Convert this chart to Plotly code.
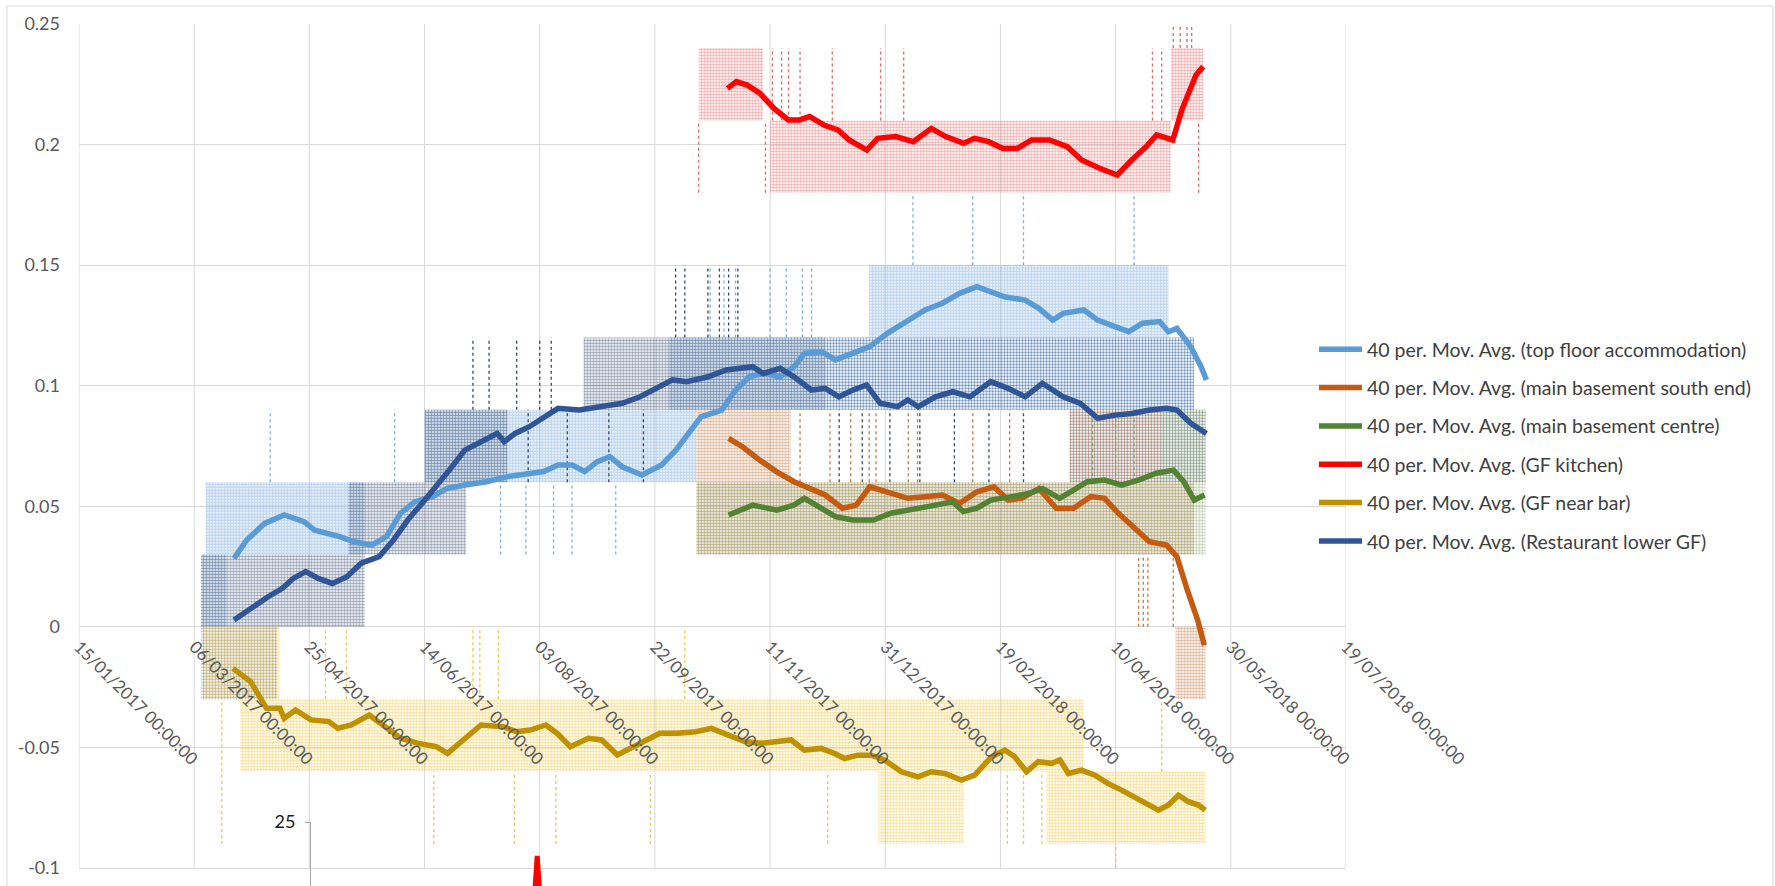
import plotly.graph_objects as go
import pandas as pd

# ---------------- data (x values are Excel date serials) ----------------
top_x = [42817.3, 42822.8, 42830.6, 42839.1, 42847.7, 42852.3, 42863.2, 42869.4, 42877.1, 42883.4,
         42889.6, 42895.8, 42903.5, 42909.7, 42917.5, 42926.8, 42936.1, 42945.5, 42951.7, 42957.9,
         42964.1, 42969.5, 42975.0, 42980.4, 42985.8, 42994.4, 43002.9, 43009.1, 43015.4, 43020.0,
         43029.0, 43035.0, 43041.0, 43047.0, 43054.4, 43060.4, 43064.9, 43072.4, 43078.4, 43085.9,
         43093.3, 43100.9, 43109.8, 43117.3, 43124.8, 43132.3, 43139.8, 43144.3, 43151.7, 43160.7,
         43166.7, 43172.7, 43177.2, 43186.2, 43192.2, 43199.7, 43205.7, 43211.7, 43219.1, 43222.9,
         43226.6, 43232.6, 43237.1, 43239.4]
top_y = [0.0284, 0.0360, 0.0429, 0.0464, 0.0436, 0.0401, 0.0374, 0.0353, 0.0339, 0.0374,
         0.0471, 0.0519, 0.0540, 0.0574, 0.0588, 0.0602, 0.0623, 0.0637, 0.0644, 0.0671,
         0.0671, 0.0644, 0.0685, 0.0706, 0.0664, 0.0630, 0.0671, 0.0733, 0.0816, 0.0871,
         0.0899, 0.0982, 0.1037, 0.1051, 0.1037, 0.1079, 0.1134, 0.1141, 0.1107, 0.1134,
         0.1162, 0.1217, 0.1272, 0.1314, 0.1342, 0.1383, 0.1411, 0.1397, 0.1369, 0.1355,
         0.1321, 0.1272, 0.1300, 0.1314, 0.1272, 0.1245, 0.1224, 0.1259, 0.1266, 0.1224,
         0.1238, 0.1162, 0.1079, 0.1024]

rest_x = [42817.3, 42824.3, 42832.1, 42838.3, 42843.0, 42848.4, 42853.9, 42860.0, 42866.3, 42872.5,
          42880.3, 42886.5, 42892.7, 42898.9, 42905.1, 42911.3, 42917.5, 42925.3, 42931.5, 42934.6,
          42939.3, 42945.5, 42951.7, 42957.9, 42967.2, 42976.5, 42985.8, 42993.6, 43001.3, 43007.6,
          43013.8, 43023.1, 43030.9, 43038.7, 43042.5, 43047.0, 43054.4, 43060.4, 43067.9, 43073.9,
          43079.9, 43085.9, 43091.9, 43097.8, 43105.3, 43109.8, 43114.3, 43121.8, 43129.3, 43136.8,
          43145.8, 43153.3, 43160.7, 43168.2, 43177.2, 43184.7, 43192.2, 43199.7, 43207.1, 43214.7,
          43222.1, 43226.6, 43232.6, 43239.4]
rest_y = [0.0028, 0.0077, 0.0125, 0.0160, 0.0201, 0.0229, 0.0201, 0.0180, 0.0208, 0.0264,
          0.0291, 0.0360, 0.0443, 0.0512, 0.0581, 0.0657, 0.0733, 0.0768, 0.0802, 0.0768,
          0.0802, 0.0830, 0.0871, 0.0906, 0.0899, 0.0913, 0.0927, 0.0954, 0.0996, 0.1024,
          0.1017, 0.1037, 0.1065, 0.1072, 0.1079, 0.1051, 0.1072, 0.1037, 0.0982, 0.0989,
          0.0954, 0.0982, 0.1003, 0.0927, 0.0913, 0.0941, 0.0913, 0.0954, 0.0975, 0.0954,
          0.1017, 0.0989, 0.0954, 0.1010, 0.0954, 0.0927, 0.0865, 0.0878, 0.0885, 0.0899,
          0.0906, 0.0899, 0.0844, 0.0802]

south_x = [43032.0, 43038.0, 43045.4, 43052.9, 43060.4, 43067.9, 43073.9, 43081.4, 43087.4, 43093.3,
           43100.9, 43109.8, 43117.3, 43124.8, 43132.3, 43139.8, 43147.2, 43153.3, 43159.2, 43166.7,
           43174.2, 43181.7, 43189.2, 43195.2, 43201.2, 43208.6, 43214.7, 43222.1, 43226.6, 43231.1,
           43235.6, 43238.5]
south_y = [0.0782, 0.0747, 0.0692, 0.0643, 0.0602, 0.0574, 0.0547, 0.0492, 0.0505, 0.0581,
           0.0560, 0.0533, 0.0540, 0.0547, 0.0512, 0.0560, 0.0581, 0.0526, 0.0533, 0.0574,
           0.0492, 0.0492, 0.0540, 0.0533, 0.0471, 0.0402, 0.0353, 0.0339, 0.0291, 0.0153,
           0.0028, -0.0076]

centre_x = [43032.0, 43042.5, 43052.9, 43060.4, 43064.9, 43070.9, 43078.4, 43085.9, 43094.9, 43102.4,
            43112.8, 43121.8, 43129.3, 43133.8, 43139.8, 43145.8, 43154.8, 43162.3, 43168.3, 43175.7,
            43181.7, 43187.7, 43195.2, 43202.6, 43210.1, 43217.6, 43225.1, 43229.6, 43234.1, 43238.6]
centre_y = [0.0464, 0.0505, 0.0484, 0.0505, 0.0533, 0.0498, 0.0457, 0.0443, 0.0443, 0.0471,
            0.0492, 0.0505, 0.0519, 0.0478, 0.0492, 0.0526, 0.0540, 0.0553, 0.0574, 0.0533,
            0.0567, 0.0602, 0.0609, 0.0588, 0.0609, 0.0637, 0.0650, 0.0602, 0.0526, 0.0547]

kitchen_x = [43031.5, 43035.4, 43040.0, 43045.5, 43051.7, 43057.9, 43062.6, 43067.2, 43073.4, 43079.6,
             43084.3, 43092.0, 43096.7, 43104.5, 43112.2, 43120.0, 43126.2, 43134.0, 43138.7, 43144.8,
             43151.1, 43157.3, 43163.5, 43171.3, 43179.0, 43185.2, 43193.0, 43200.7, 43207.0, 43213.2,
             43217.8, 43224.8, 43228.7, 43234.9, 43238.0]
kitchen_y = [0.2233, 0.2261, 0.2247, 0.2213, 0.2150, 0.2102, 0.2102, 0.2116, 0.2081, 0.2060,
             0.2019, 0.1977, 0.2026, 0.2033, 0.2012, 0.2067, 0.2033, 0.2005, 0.2026, 0.2012,
             0.1984, 0.1984, 0.2019, 0.2019, 0.1991, 0.1936, 0.1902, 0.1874, 0.1936, 0.1991,
             0.2040, 0.2019, 0.2143, 0.2289, 0.2323]

bar_x = [42816.8, 42824.5, 42831.4, 42837.2, 42839.1, 42844.0, 42850.7, 42858.5, 42862.4, 42868.2,
         42876.0, 42881.8, 42889.6, 42897.3, 42905.1, 42910.0, 42916.7, 42924.5, 42934.2, 42940.0,
         42945.9, 42952.7, 42957.5, 42963.3, 42971.1, 42976.9, 42983.7, 42990.5, 42996.3, 43002.1,
         43009.9, 43017.7, 43024.5, 43031.3, 43039.0, 43046.1, 43051.9, 43059.1, 43064.9, 43072.2,
         43078.0, 43082.3, 43088.1, 43093.9, 43099.7, 43107.0, 43114.2, 43120.0, 43125.8, 43133.0,
         43138.8, 43146.1, 43151.9, 43156.2, 43161.3, 43166.4, 43172.2, 43175.8, 43179.5, 43185.2,
         43191.0, 43196.8, 43202.6, 43208.4, 43214.2, 43218.6, 43222.9, 43227.3, 43231.6, 43236.0,
         43238.9]
bar_y = [-0.0172, -0.0227, -0.0338, -0.0338, -0.0379, -0.0345, -0.0386, -0.0393, -0.0421, -0.0407,
         -0.0366, -0.0407, -0.0462, -0.0483, -0.0497, -0.0525, -0.0469, -0.0407, -0.0414, -0.0435,
         -0.0428, -0.0407, -0.0441, -0.0497, -0.0462, -0.0469, -0.0531, -0.0497, -0.0469, -0.0441,
         -0.0441, -0.0435, -0.0421, -0.0448, -0.0476, -0.0483, -0.0476, -0.0469, -0.0511, -0.0504,
         -0.0525, -0.0546, -0.0532, -0.0532, -0.0552, -0.0601, -0.0622, -0.0601, -0.0608, -0.0635,
         -0.0615, -0.0539, -0.0511, -0.0539, -0.0601, -0.0559, -0.0566, -0.0552, -0.0608, -0.0594,
         -0.0615, -0.0650, -0.0677, -0.0705, -0.0739, -0.0760, -0.0739, -0.0698, -0.0725, -0.0739,
         -0.0760]

# raw readings: dense blocks (start, end, low, high, density) and isolated jumps (date, low, high)
top_raw_start = [42803, 42805, 42900, 43006, 43093]
top_raw_end = [42814, 42874, 43018, 43234, 43223]
top_raw_lo = [0.0, 0.03, 0.06, 0.09, 0.12]
top_raw_hi = [0.03, 0.06, 0.09, 0.12, 0.15]
top_raw_dens = [0.65, 0.75, 0.7, 0.7, 0.7]
top_jump_x = [42833, 42887, 42933, 42944, 42956, 42964, 42983, 43024, 43030, 43035, 43050, 43057,
              43064, 43068, 43112, 43138, 43160, 43208]
top_jump_lo = [0.06, 0.06, 0.03, 0.03, 0.03, 0.03, 0.03, 0.12, 0.12, 0.12, 0.12, 0.12,
               0.12, 0.12, 0.15, 0.15, 0.15, 0.15]
top_jump_hi = [0.09, 0.09, 0.06, 0.06, 0.06, 0.06, 0.06, 0.15, 0.15, 0.15, 0.15, 0.15,
               0.15, 0.15, 0.18, 0.18, 0.18, 0.18]

rest_raw_start = [42803, 42803, 42867, 42900, 42969, 43074, 43180]
rest_raw_end = [42836, 42874, 42918, 42936, 43074, 43234, 43239]
rest_raw_lo = [-0.03, 0.0, 0.03, 0.06, 0.09, 0.09, 0.06]
rest_raw_hi = [0.0, 0.03, 0.06, 0.09, 0.12, 0.12, 0.09]
rest_raw_dens = [0.45, 0.6, 0.6, 0.6, 0.6, 0.35, 0.45]
rest_jump_x = [42921, 42928, 42940, 42950, 42955, 42945, 42962, 42980, 42995, 43080, 43090, 43102,
               43115, 43130, 43145, 43160, 43009, 43013, 43023, 43028, 43032, 43036]
rest_jump_lo = [0.09, 0.09, 0.09, 0.09, 0.09, 0.06, 0.06, 0.06, 0.06, 0.06, 0.06, 0.06,
                0.06, 0.06, 0.06, 0.06, 0.12, 0.12, 0.12, 0.12, 0.12, 0.12]
rest_jump_hi = [0.12, 0.12, 0.12, 0.12, 0.12, 0.09, 0.09, 0.09, 0.09, 0.09, 0.09, 0.09,
                0.09, 0.09, 0.09, 0.09, 0.15, 0.15, 0.15, 0.15, 0.15, 0.15]

south_raw_start = [43018, 43018, 43180, 43226]
south_raw_end = [43059, 43234, 43220, 43239]
south_raw_lo = [0.06, 0.03, 0.06, -0.03]
south_raw_hi = [0.09, 0.06, 0.09, 0.0]
south_raw_dens = [0.65, 0.6, 0.45, 0.65]
south_jump_x = [43063, 43076, 43085, 43093, 43096, 43110, 43114, 43138, 43154, 43210, 43212, 43214, 43225]
south_jump_lo = [0.06, 0.06, 0.06, 0.06, 0.06, 0.06, 0.06, 0.06, 0.06, 0.0, 0.0, 0.0, 0.0]
south_jump_hi = [0.09, 0.09, 0.09, 0.09, 0.09, 0.09, 0.09, 0.09, 0.09, 0.03, 0.03, 0.03, 0.03]

centre_raw_start = [43018, 43220]
centre_raw_end = [43239, 43239]
centre_raw_lo = [0.03, 0.06]
centre_raw_hi = [0.06, 0.09]
centre_raw_dens = [0.5, 0.5]
centre_jump_x = [43190, 43200, 43208]
centre_jump_lo = [0.06, 0.06, 0.06]
centre_jump_hi = [0.09, 0.09, 0.09]

kitchen_raw_start = [43019, 43050, 43224]
kitchen_raw_end = [43047, 43224, 43238]
kitchen_raw_lo = [0.21, 0.18, 0.21]
kitchen_raw_hi = [0.24, 0.21, 0.24]
kitchen_raw_dens = [0.6, 0.55, 0.6]
kitchen_jump_x = [43019, 43048, 43051, 43055, 43058, 43063, 43077, 43098, 43108,
                  43216, 43220, 43225, 43228, 43231, 43233, 43236]
kitchen_jump_lo = [0.18, 0.18, 0.21, 0.21, 0.21, 0.21, 0.21, 0.21, 0.21,
                   0.21, 0.21, 0.24, 0.24, 0.24, 0.24, 0.18]
kitchen_jump_hi = [0.21, 0.21, 0.24, 0.24, 0.24, 0.24, 0.24, 0.24, 0.24,
                   0.24, 0.24, 0.27, 0.27, 0.27, 0.27, 0.21]

bar_raw_start = [42804, 42820, 43097, 43170]
bar_raw_end = [42837, 43186, 43134, 43239]
bar_raw_lo = [-0.03, -0.06, -0.09, -0.09]
bar_raw_hi = [0.0, -0.03, -0.06, -0.06]
bar_raw_dens = [0.6, 0.65, 0.55, 0.65]
bar_jump_x = [42857, 42866, 42921, 42924, 42932, 43013, 42812, 42904, 42939, 42957, 42998, 43075,
              43153, 43160, 43168, 43200, 43220, 42812]
bar_jump_lo = [-0.03, -0.03, -0.03, -0.03, -0.03, -0.03, -0.09, -0.09, -0.09, -0.09, -0.09, -0.09,
               -0.09, -0.09, -0.09, -0.1, -0.06, -0.06]
bar_jump_hi = [0.0, 0.0, 0.0, 0.0, 0.0, 0.0, -0.06, -0.06, -0.06, -0.06, -0.06, -0.06,
               -0.06, -0.06, -0.06, -0.09, -0.03, -0.03]

# second (overlapping) chart fragment at the bottom
other_x = [42947.8, 42948.9, 42950.0]
other_y = [16.0, 20.75, 16.0]

x_tick_serials = [42750, 42800, 42850, 42900, 42950, 43000, 43050, 43100, 43150, 43200, 43250, 43300]
x_ticktext = ["15/01/2017 00:00:00", "06/03/2017 00:00:00", "25/04/2017 00:00:00", "14/06/2017 00:00:00",
              "03/08/2017 00:00:00", "22/09/2017 00:00:00", "11/11/2017 00:00:00", "31/12/2017 00:00:00",
              "19/02/2018 00:00:00", "10/04/2018 00:00:00", "30/05/2018 00:00:00", "19/07/2018 00:00:00"]
y_ticks = [-0.1, -0.05, 0, 0.05, 0.1, 0.15, 0.2, 0.25]
y_ticktext = ["-0.1", "-0.05", "0", "0.05", "0.1", "0.15", "0.2", "0.25"]

# ---------------- helpers ----------------
BASE = pd.Timestamp("1899-12-30")


def to_dt(vals):
    return [None if v is None else (BASE + pd.Timedelta(days=v)).round("min") for v in vals]


def blocks(starts, ends, los, his):
    xs, ys = [], []
    for s, e, lo, hi in zip(starts, ends, los, his):
        xs += [s, e, e, s, s, None]
        ys += [lo, lo, hi, hi, lo, None]
    return to_dt(xs), ys


def jumps(xv, los, his):
    xs, ys = [], []
    for x, lo, hi in zip(xv, los, his):
        xs += [x, x, None]
        ys += [lo, hi, None]
    return to_dt(xs), ys


FONT = "Lato"
TXT = "#595959"
GRID = "#D9D9D9"

fig = go.Figure()

raw_sets = [
    (top_raw_start, top_raw_end, top_raw_lo, top_raw_hi, top_raw_dens, top_jump_x, top_jump_lo, top_jump_hi, "#7FAEDD"),
    (rest_raw_start, rest_raw_end, rest_raw_lo, rest_raw_hi, rest_raw_dens, rest_jump_x, rest_jump_lo, rest_jump_hi, "#34496E"),
    (south_raw_start, south_raw_end, south_raw_lo, south_raw_hi, south_raw_dens, south_jump_x, south_jump_lo, south_jump_hi, "#C07A45"),
    (centre_raw_start, centre_raw_end, centre_raw_lo, centre_raw_hi, centre_raw_dens, centre_jump_x, centre_jump_lo, centre_jump_hi, "#88A46A"),
    (kitchen_raw_start, kitchen_raw_end, kitchen_raw_lo, kitchen_raw_hi, kitchen_raw_dens, kitchen_jump_x, kitchen_jump_lo, kitchen_jump_hi, "#E06A6A"),
    (bar_raw_start, bar_raw_end, bar_raw_lo, bar_raw_hi, bar_raw_dens, bar_jump_x, bar_jump_lo, bar_jump_hi, "#EFC845"),
]
for s, e, lo, hi, dens, jx, jlo, jhi, col in raw_sets:
    for d in sorted(set(dens)):
        idx = [i for i, v in enumerate(dens) if v == d]
        bx, by = blocks([s[i] for i in idx], [e[i] for i in idx], [lo[i] for i in idx], [hi[i] for i in idx])
        fig.add_trace(go.Scatter(
            x=bx, y=by, mode="lines", fill="toself", fillcolor="rgba(0,0,0,0)",
            fillpattern=dict(shape=".", size=3, solidity=d, fgcolor=col, bgcolor="rgba(0,0,0,0)"),
            line=dict(width=0, color=col), showlegend=False, hoverinfo="skip"))
    jxx, jyy = jumps(jx, jlo, jhi)
    fig.add_trace(go.Scatter(
        x=jxx, y=jyy, mode="lines", line=dict(width=1.3, color=col, dash="dot"),
        showlegend=False, hoverinfo="skip"))

ma_sets = [
    (top_x, top_y, "#5B9BD5", "40 per. Mov. Avg. (top floor accommodation)"),
    (south_x, south_y, "#C55A11", "40 per. Mov. Avg. (main basement south end)"),
    (centre_x, centre_y, "#548235", "40 per. Mov. Avg. (main basement centre)"),
    (kitchen_x, kitchen_y, "#FF0000", "40 per. Mov. Avg. (GF kitchen)"),
    (bar_x, bar_y, "#BF9000", "40 per. Mov. Avg. (GF near bar)"),
    (rest_x, rest_y, "#2F5597", "40 per. Mov. Avg. (Restaurant lower GF)"),
]
for i, (xv, yv, col, name) in enumerate(ma_sets):
    fig.add_trace(go.Scatter(
        x=to_dt(xv), y=yv, mode="lines", name=name, legendgroup=f"g{i}",
        line=dict(color=col, width=5.5), hoverinfo="skip"))

fig.add_trace(go.Scatter(
    x=to_dt(other_x), y=other_y, mode="lines", xaxis="x2", yaxis="y2",
    line=dict(color="#FF0000", width=5), showlegend=False, hoverinfo="skip"))

Y_MIN = -0.1 - 18 / 2411.4
Y_MAX = 0.25
tick_dates = to_dt(x_tick_serials)
x_start, x_end = tick_dates[0], tick_dates[-1]

# vertical grid lines, limited to the -0.1 .. 0.25 value range
grid_shapes = [dict(type="line", xref="x", yref="y", x0=t, x1=t, y0=y_ticks[0], y1=y_ticks[-1],
                    line=dict(color=GRID, width=1), layer="below") for t in tick_dates]

fig.update_layout(
    width=1775, height=886,
    margin=dict(l=79, r=429, t=24, b=0, autoexpand=False),
    paper_bgcolor="white", plot_bgcolor="rgba(0,0,0,0)",
    font=dict(family=FONT, size=17, color=TXT),
    hovermode=False,
    xaxis=dict(
        type="date", range=[x_start, x_end], tickvals=tick_dates, ticktext=x_ticktext,
        tickangle=45, showgrid=False, zeroline=False, showline=False, ticks="",
        anchor="free", position=(0 - Y_MIN) / (Y_MAX - Y_MIN), automargin=False,
        tickfont=dict(family=FONT, size=17, color=TXT), ticklabelstandoff=6),
    yaxis=dict(
        range=[Y_MIN, Y_MAX], tickvals=y_ticks, ticktext=y_ticktext, showgrid=True,
        gridcolor=GRID, gridwidth=1, zeroline=False, showline=False, ticks="", automargin=False,
        tickfont=dict(family=FONT, size=18, color=TXT), ticklabelstandoff=18),
    xaxis2=dict(type="date", range=[x_start, x_end], anchor="y2", visible=False, domain=[0, 1],
                automargin=False),
    yaxis2=dict(
        domain=[0, 64 / 862], range=[17, 25], anchor="free", position=(310 - 79) / 1267,
        tickvals=[25], ticktext=["25"], showgrid=False, zeroline=False, showline=True,
        linecolor="#A6A6A6", linewidth=1, ticks="outside", ticklen=5, tickcolor="#A6A6A6",
        automargin=False,
        tickfont=dict(family=FONT, size=18, color="#1a1a1a"), ticklabelstandoff=6),
    legend=dict(
        x=(1314 - 79) / 1267, xanchor="left", y=(886 - 330) / 862, yanchor="top",
        bgcolor="rgba(0,0,0,0)", borderwidth=0, tracegroupgap=10, itemwidth=43,
        font=dict(family=FONT, size=19.5, color="#404040")),
    shapes=grid_shapes + [
        dict(type="rect", xref="paper", yref="paper", x0=(7 - 79) / 1267, x1=(1773 - 79) / 1267,
             y0=-0.2, y1=(886 - 6) / 862, line=dict(color=GRID, width=1),
             fillcolor="rgba(0,0,0,0)", layer="below"),
    ],
)

fig.write_html("out.html", config={"displayModeBar": False},
               post_script="document.body.style.margin='0px';")
